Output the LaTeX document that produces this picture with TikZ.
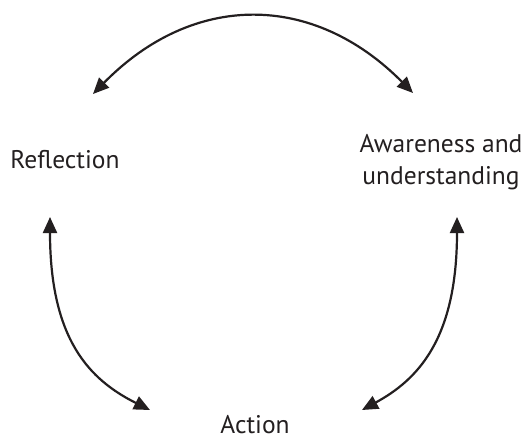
\documentclass[tikz,border=0pt]{standalone}
\usepackage{fontspec}
\setmainfont{PT Sans}
\usetikzlibrary{arrows.meta}
\definecolor{ink}{HTML}{231F20}
\begin{document}
\begin{tikzpicture}[x=1pt,y=-1pt,
  conn/.style={draw=ink,line width=2.2pt,{Triangle[length=16pt,width=14pt]}-{Triangle[length=16pt,width=14pt]}},
  lbl/.style={text=ink,font=\fontsize{25.5}{32}\selectfont,inner sep=0pt,align=center,anchor=base}]
\useasboundingbox (0,0) rectangle (523,437);
\node[lbl] (refl) at (65,168) {Reflection};
\node[lbl] (aware) at (441,184) {Awareness and\\understanding};
\node[lbl,align=none,text depth=0pt] (act) at (255,433.5) {Action};
\coordinate (tl) at (93,94);
\coordinate (tr) at (413,93);
\coordinate (lt) at (50,217);
\coordinate (lb) at (150,410);
\coordinate (rt) at (457,217);
\coordinate (rb) at (362,410);
\path[conn] (tl) .. controls (193,-8) and (313,-8) .. (tr);
\path[conn] (lt) .. controls (50,340) and (90,380) .. (lb);
\path[conn] (rt) .. controls (457,340) and (417,380) .. (rb);
\end{tikzpicture}
\end{document}
